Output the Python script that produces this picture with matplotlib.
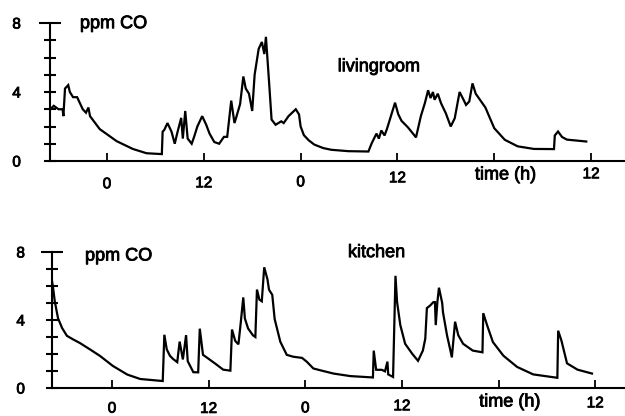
import matplotlib
matplotlib.use('Agg')
import matplotlib.pyplot as plt
import matplotlib.patheffects as pe
from matplotlib.transforms import blended_transform_factory

plt.rcParams['font.family'] = ['Liberation Sans', 'DejaVu Sans']

# ---- data (hours relative to midnight of day 1, ppm CO) ----
hours_living = [-7.0, -6.6, -6.0, -5.5, -5.4, -5.2, -4.8, -4.6, -4.2, -3.7, -3.3, -3.0,
                -2.6, -2.3, -2.1, -0.9, 1.2, 3.2, 4.9, 6.8, 6.9, 7.1, 7.5, 8.0, 8.4,
                8.7, 9.2, 9.4, 9.7, 10.0, 10.5, 10.8, 11.2, 11.8, 12.3, 12.7, 13.3,
                13.9, 14.5, 14.9, 15.4, 15.8, 16.0, 16.5, 16.9, 17.2, 17.6, 18.0, 18.3,
                18.8, 19.2, 19.5, 19.7, 20.1, 20.4, 20.9, 21.6, 21.9, 22.5, 23.4, 23.8,
                24.0, 24.4, 25.0, 25.7, 26.8, 27.8, 29.9, 32.4, 32.8, 33.4, 33.7, 34.0,
                34.4, 34.7, 35.2, 35.7, 36.1, 36.5, 37.3, 38.3, 38.9, 39.4, 39.8, 40.1,
                40.4, 40.6, 41.0, 41.4, 42.0, 42.6, 43.1, 43.7, 44.2, 44.5, 44.9, 45.3,
                45.7, 46.3, 46.9, 47.4, 48.0, 49.3, 50.9, 52.9, 55.4, 55.5, 55.9, 56.4,
                57.0, 59.4]
co_living = [3.0, 3.2, 3.0, 3.0, 2.6, 4.2, 4.4, 4.0, 3.7, 3.7, 3.3, 3.0,
             2.8, 3.1, 2.6, 1.85, 1.15, 0.7, 0.45, 0.4, 1.7, 1.8, 2.2, 1.7, 1.0,
             1.6, 2.5, 1.3, 2.9, 1.3, 1.0, 1.4, 2.0, 2.6, 2.1, 1.6, 1.1,
             1.0, 1.4, 1.4, 3.5, 2.2, 2.5, 3.3, 4.9, 4.2, 3.9, 2.9, 5.0,
             6.5, 6.9, 6.2, 7.2, 4.5, 2.4, 2.1, 2.3, 2.2, 2.6, 3.0, 2.7,
             2.0, 1.5, 1.2, 0.95, 0.75, 0.65, 0.57, 0.55, 1.02, 1.59, 1.3, 1.77,
             1.48, 1.86, 2.62, 3.38, 2.71, 2.33, 1.95, 1.37, 2.6, 3.36, 4.1, 3.65,
             4.0, 3.55, 3.9, 3.35, 2.76, 2.0, 2.48, 4.0, 3.54, 3.25, 3.45, 4.5,
             3.9, 3.5, 3.1, 2.55, 1.9, 1.23, 0.85, 0.7, 0.69, 1.48, 1.71, 1.39,
             1.24, 1.13]

hours_kitchen = [-7.45, -7.3, -7.1, -6.7, -6.2, -5.6, -4.8, -4.0, -2.7, -1.5, 0.1, 1.9,
                 3.5, 6.3, 6.5, 6.8, 7.2, 7.6, 8.1, 8.4, 8.8, 9.2, 9.4, 10.1, 10.7,
                 10.9, 11.3, 11.9, 13.0, 13.8, 14.7, 14.9, 15.3, 15.7, 16.0, 16.3, 16.5,
                 16.9, 17.5, 17.8, 18.0, 18.3, 18.6, 18.9, 19.3, 19.5, 19.9, 20.2, 20.9,
                 21.7, 22.5, 23.6, 24.2, 25.0, 25.8, 27.5, 29.6, 32.4, 32.5, 32.8, 33.5,
                 33.9, 34.2, 34.3, 34.9, 35.2, 35.4, 35.8, 36.4, 37.3, 38.0, 38.6, 38.9,
                 39.1, 39.5, 39.9, 40.1, 40.2, 40.4, 40.6, 41.0, 41.1, 41.6, 42.0, 42.2,
                 42.6, 43.0, 43.6, 44.8, 46.0, 46.1, 46.6, 47.3, 48.6, 50.3, 52.3, 55.3,
                 55.4, 55.8, 56.5, 57.8, 59.6]
co_kitchen = [6.3, 5.83, 5.08, 4.1, 3.53, 3.07, 2.85, 2.65, 2.26, 1.89, 1.3, 0.79,
              0.53, 0.41, 3.13, 2.27, 1.89, 1.7, 1.52, 2.73, 1.68, 3.11, 1.58, 0.93, 0.92,
              3.49, 1.95, 1.75, 1.37, 1.08, 1.02, 3.44, 2.77, 2.57, 3.9, 5.33, 4.09,
              3.5, 3.1, 3.0, 5.79, 5.2, 5.1, 7.1, 6.4, 5.78, 5.48, 4.05, 2.72,
              1.95, 1.84, 1.77, 1.54, 1.15, 1.05, 0.85, 0.7, 0.62, 2.2, 1.07, 1.07,
              0.98, 1.55, 0.8, 0.65, 6.6, 5.05, 3.7, 2.6, 2.0, 1.6, 2.2, 2.9,
              4.7, 4.85, 5.05, 5.05, 3.7, 5.05, 5.9, 5.0, 4.45, 3.1, 2.25, 1.8,
              3.9, 3.1, 2.6, 2.2, 2.1, 4.4, 3.66, 2.7, 1.9, 1.24, 0.8, 0.6,
              3.37, 2.8, 1.45, 1.08, 0.85]

y_ticks = [0, 1, 2, 3, 4, 5, 6, 7, 8]
y_tick_labels = ['0', '', '', '', '4', '', '', '', '8']
x_ticks = [0, 12, 24, 36, 48, 60]
x_tick_labels = ['0', '12', '0', '12', '', '12']

W, H = 625, 416
fig = plt.figure(figsize=(W / 100, H / 100), dpi=100)
fig.patch.set_facecolor('white')
heavy = [pe.withStroke(linewidth=0.6, foreground='black')]


def panel(rect, xlim, hours, co, room, room_xy, ppm_xy, time_xy, xpads, ypad):
    ax = fig.add_axes(rect)
    ax.plot(hours, co, color='black', lw=1.6, solid_joinstyle='miter')
    ax.set_xlim(*xlim)
    ax.set_ylim(0, 8)
    for s in ('top', 'right'):
        ax.spines[s].set_visible(False)
    for s in ('left', 'bottom'):
        ax.spines[s].set_linewidth(1.5)
    ax.set_yticks(y_ticks)
    ax.set_yticklabels(y_tick_labels)
    ax.set_xticks(x_ticks)
    ax.set_xticklabels(x_tick_labels)
    ax.tick_params(axis='y', direction='inout', length=8, width=1.5,
                   labelsize=11, pad=ypad)
    ax.tick_params(axis='x', direction='in', length=6, width=1.3,
                   labelsize=11)
    ax.yaxis.get_major_ticks()[8].tick1line.set_markersize(16)
    for t, p in zip(ax.xaxis.get_major_ticks(), xpads):
        t.set_pad(p)
    for lab in ax.get_xticklabels() + ax.get_yticklabels():
        lab.set_path_effects(heavy)
    ax.text(ppm_xy[0], ppm_xy[1], 'ppm CO', fontsize=13, ha='left',
            va='baseline', path_effects=heavy)
    ax.text(room_xy[0], room_xy[1], room, fontsize=13, ha='left',
            va='baseline', path_effects=heavy)
    tr = blended_transform_factory(ax.transData, ax.transAxes)
    ax.text(time_xy[0], time_xy[1], 'time (h)', fontsize=13, ha='center',
            va='center', transform=tr, path_effects=heavy)
    return ax


panel([50 / W, 1 - 161 / H, 575 / W, 138 / H], (-7.06, 64.2),
      hours_living, co_living, 'livingroom', (28.6, 5.2), (-3.35, 7.7),
      (49.4, -0.101), [11.7, 11.0, 10.3, 7.4, 0, 4.5], 17)

panel([52 / W, 1 - 388 / H, 573 / W, 136 / H], (-7.45, 63.7),
      hours_kitchen, co_kitchen, 'kitchen', (29.3, 7.7), (-3.35, 7.5),
      (49.4, -0.103), [9.8, 10.0, 9.6, 8.1, 0, 6.0], 15.5)

fig.savefig('out.png', dpi=100, facecolor='white')
